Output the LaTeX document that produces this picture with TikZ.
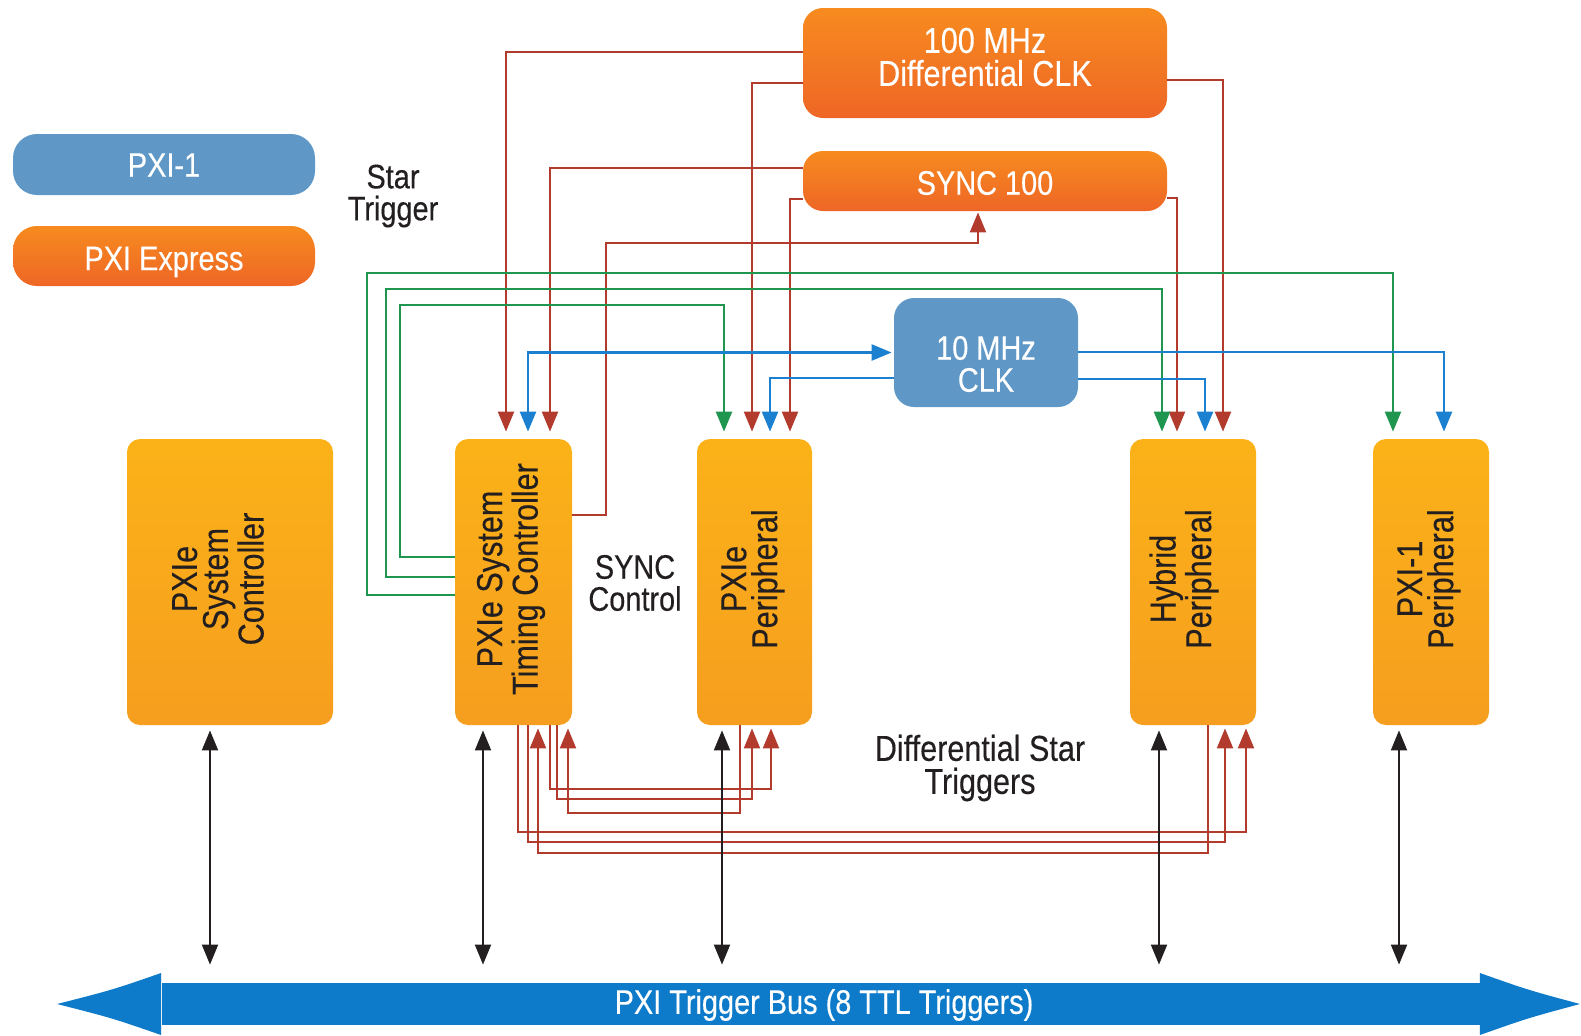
\documentclass[tikz,border=0pt]{standalone}
\usepackage{fontspec}
\setmainfont{Liberation Sans}[FakeStretch=0.85,FakeBold=0.3]
\usetikzlibrary{arrows.meta}
\definecolor{ytop}{HTML}{FBB218}
\definecolor{ybot}{HTML}{F69E1F}
\definecolor{otop}{HTML}{F78B1F}
\definecolor{obot}{HTML}{EE6626}
\definecolor{pblue}{HTML}{5F98C6}
\definecolor{busblue}{HTML}{0E7BCA}
\definecolor{rline}{HTML}{B33B2E}
\definecolor{gline}{HTML}{1F9650}
\definecolor{bline}{HTML}{1B80CF}
\definecolor{dark}{HTML}{231F20}
\newcommand\lblfont{\fontsize{17pt}{16pt}\selectfont}
\newcommand\bigfont{\fontsize{18pt}{16.5pt}\selectfont}
\newcommand\rotfont{\fontsize{18pt}{15.5pt}\selectfont}
\begin{document}
\begin{tikzpicture}[x=0.5pt,y=-0.5pt,
  ybox/.style={rounded corners=6.5pt, top color=ytop, bottom color=ybot, draw=none,
    minimum height=143pt, inner sep=0pt},
  obox/.style={rounded corners=10pt, top color=otop, bottom color=obot, draw=none,
    inner sep=0pt},
  bbox/.style={rounded corners=10pt, fill=pblue, draw=none, inner sep=0pt},
  wtxt/.style={align=center, text=white, font=\lblfont, inner sep=0pt},
  rtxt/.style={rotate=90, align=center, text=dark, font=\rotfont, inner sep=0pt},
  ftxt/.style={align=center, text=dark, font=\lblfont, inner sep=0pt},
  tip/.tip={Triangle[length=10pt,width=8pt]},
  redarr/.style={draw=rline, line width=1.1pt, -tip, shorten >=3.5pt},
  redup/.style={draw=rline, line width=1.1pt, -tip, shorten >=1.5pt},
  grnarr/.style={draw=gline, line width=1.1pt, -tip, shorten >=3.5pt},
  bluarr/.style={draw=bline, line width=1.2pt, -tip, shorten >=3.5pt},
  bkarr/.style={draw=dark, line width=1pt, tip-tip, shorten <=2.5pt, shorten >=9pt}
]
\useasboundingbox (0,0) rectangle (1581,1035);

% legend
\node[bbox, rounded corners=12pt, minimum width=151pt, minimum height=30.5pt] (leg1) at (164,164.5) {};
\node[wtxt] (leg1txt) at (164,165) {PXI-1};
\node[obox, rounded corners=12pt, minimum width=151pt, minimum height=30pt] (leg2) at (164,256) {};
\node[wtxt] (leg2txt) at (164,262) {PXI Express};
\node[ftxt] (startxt) at (393,196) {Star\\Trigger};

% clock sources
\node[obox, minimum width=182pt, minimum height=55pt] (dclk) at (985,63) {};
\node[wtxt, font=\bigfont] (dclktxt) at (985,57) {100 MHz\\Differential CLK};
\node[obox, minimum width=182pt, minimum height=30pt] (sync) at (985,181) {};
\node[wtxt] (synctxt100) at (985,183) {SYNC 100};
\node[bbox, minimum width=92pt, minimum height=54.5pt] (clk10) at (986,352.5) {};
\node[wtxt] (clk10txt) at (986,364) {10 MHz\\CLK};

% modules
\node[ybox, minimum width=103pt] (sc) at (230,582) {};
\node[ybox, minimum width=58.5pt] (tc) at (513.5,582) {};
\node[ybox, minimum width=57.5pt] (pp) at (754.5,582) {};
\node[ybox, minimum width=63pt] (hp) at (1193,582) {};
\node[ybox, minimum width=58pt] (p1) at (1431,582) {};

\node[rtxt] (sctxt) at (218,579) {PXIe\\System\\Controller};
\node[rtxt] (tctxt) at (511,579) {PXIe System\\Timing Controller};
\node[rtxt] (pptxt) at (753,579) {PXIe\\Peripheral};
\node[rtxt] (hptxt) at (1184,579) {Hybrid\\Peripheral};
\node[rtxt] (p1txt) at (1429,579) {PXI-1\\Peripheral};

\node[ftxt] (synctxt) at (635,583) {SYNC\\Control};
\node[ftxt, font=\bigfont] (dsttxt) at (980,768) {Differential Star\\Triggers};

% trigger bus
\node[fill=busblue, minimum width=659pt, minimum height=21pt, inner sep=0pt] (bus) at (820.5,1004) {};
\node[wtxt] (bustxt) at (824,1005) {PXI Trigger Bus (8 TTL Triggers)};
\fill[busblue] (bus.west |- 0,973) .. controls (112,990) .. (57,1004)
  .. controls (112,1018) .. (bus.west |- 0,1035) -- cycle;
\fill[busblue] (bus.east |- 0,973) .. controls (1528,990) .. (1580,1004)
  .. controls (1528,1018) .. (bus.east |- 0,1035) -- cycle;

% red: 100 MHz differential clock and SYNC 100
\draw[redarr] (dclk.west |- 0,52) -| (tc.north -| 506,0);
\draw[redarr] (dclk.west |- 0,83) -| (pp.north -| 752,0);
\draw[redarr] (sync.west |- 0,168) -| (tc.north -| 550,0);
\draw[redarr] (sync.west |- 0,199) -| (pp.north -| 790,0);
\draw[redarr] (dclk.east |- 0,80) -| (hp.north -| 1223,0);
\draw[redarr] (sync.east |- 0,198) -| (hp.north -| 1177,0);
\draw[redarr, shorten >=0.5pt] (tc.east |- 0,515) -| (606,243) -| (sync.south -| 978,0);

% green: star triggers
\draw[grnarr] (tc.west |- 0,595) -| (367,273) -| (p1.north -| 1393,0);
\draw[grnarr] (tc.west |- 0,577) -| (386,289) -| (hp.north -| 1162,0);
\draw[grnarr] (tc.west |- 0,557) -| (400,305) -| (pp.north -| 724,0);

% blue: 10 MHz clock
\draw[bluarr, tip-tip, shorten <=3.5pt, shorten >=1pt] (tc.north -| 528,0) |- (clk10.west);
\draw[bluarr] (clk10.west |- 0,378) -| (pp.north -| 770,0);
\draw[bluarr] (clk10.east |- 0,352) -| (p1.north -| 1444,0);
\draw[bluarr] (clk10.east |- 0,379) -| (hp.north -| 1205,0);

% red: differential star triggers
\draw[redup] (tc.south -| 518,0) |- (1246,832) -- (hp.south -| 1246,0);
\draw[redup] (tc.south -| 528,0) |- (1225,842) -- (hp.south -| 1225,0);
\draw[redup] (hp.south -| 1208,0) |- (538,853) -- (tc.south -| 538,0);
\draw[redup] (tc.south -| 550,0) |- (771,789) -- (pp.south -| 771,0);
\draw[redup] (tc.south -| 557,0) |- (752,799) -- (pp.south -| 752,0);
\draw[redup] (pp.south -| 740,0) |- (568,813) -- (tc.south -| 568,0);

% black: trigger bus connections
\draw[bkarr] (sc.south -| 210,0) -- (bus.north -| 210,0);
\draw[bkarr] (tc.south -| 483,0) -- (bus.north -| 483,0);
\draw[bkarr] (pp.south -| 722,0) -- (bus.north -| 722,0);
\draw[bkarr] (hp.south -| 1159,0) -- (bus.north -| 1159,0);
\draw[bkarr] (p1.south -| 1399,0) -- (bus.north -| 1399,0);
\end{tikzpicture}
\end{document}
